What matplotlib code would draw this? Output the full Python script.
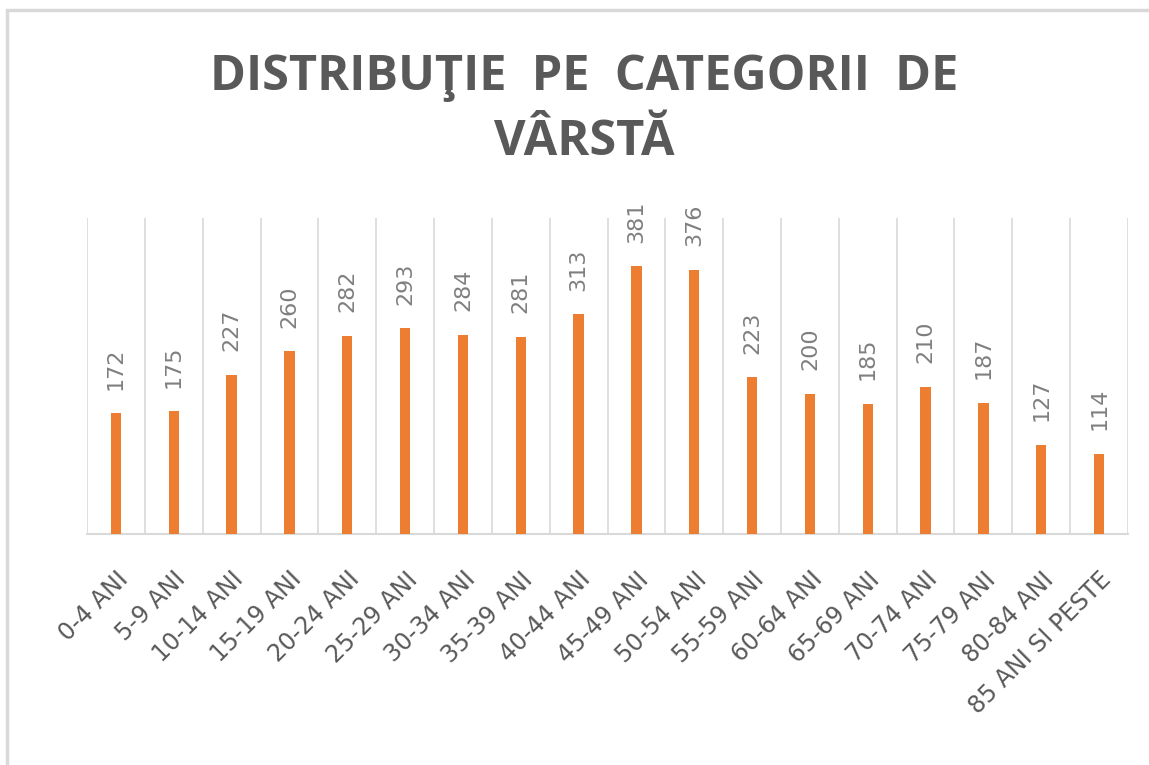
import numpy as np
import matplotlib.pyplot as plt
from matplotlib.patches import Rectangle

# date
categorii = ["0-4 ANI", "5-9 ANI", "10-14 ANI", "15-19 ANI", "20-24 ANI",
             "25-29 ANI", "30-34 ANI", "35-39 ANI", "40-44 ANI", "45-49 ANI",
             "50-54 ANI", "55-59 ANI", "60-64 ANI", "65-69 ANI", "70-74 ANI",
             "75-79 ANI", "80-84 ANI", "85 ANI SI PESTE"]
valori = [172, 175, 227, 260, 282, 293, 284, 281, 313, 381, 376,
          223, 200, 185, 210, 187, 127, 114]
titlu = "DISTRIBUŢIE  PE  CATEGORII  DE\nVÂRSTĂ"

W, H = 1149, 765
fig = plt.figure(figsize=(W / 100, H / 100), dpi=100)
fig.patch.set_facecolor("white")

# chenarul graficului (sus si stanga vizibile)
fig.patches.append(Rectangle((7 / W, -0.05), 1.1, 1 - 10 / H + 0.05,
                             transform=fig.transFigure, fill=False,
                             edgecolor="#D9D9D9", linewidth=2.5))

ax = fig.add_axes([87 / W, 1 - 534 / H, (1128 - 87) / W, (534 - 218) / H])
n = len(categorii)
x = np.arange(n)
ax.bar(x, valori, width=0.18, color="#ED7D31", zorder=3)
ax.set_xlim(-0.5, n - 0.5)
ax.set_ylim(0, 450)

# linii verticale intre categorii
for b in np.arange(-0.5, n, 1.0):
    ax.axvline(b, color="#D9D9D9", linewidth=1.2, zorder=1)
for s in ["top", "right", "left"]:
    ax.spines[s].set_visible(False)
ax.spines["bottom"].set_color("#D9D9D9")
ax.spines["bottom"].set_linewidth(1.5)
ax.set_yticks([])

ax.set_xticks(x)
ax.set_xticklabels(categorii, rotation=45, ha="right", va="top",
                   rotation_mode="anchor", fontsize=17, color="#595959",
                   family="DejaVu Sans")
ax.tick_params(axis="x", length=0, pad=24)

for xi, v in zip(x, valori):
    ax.annotate(str(v), (xi, v), xytext=(0, 17), textcoords="offset points",
                rotation=90, ha="center", va="bottom", fontsize=16,
                color="#7F7F7F", family="DejaVu Sans")

fig.text(584 / W, 1 - 110 / H, titlu, ha="center", va="center",
         fontsize=35, fontweight="bold", color="#595959",
         family="Open Sans", linespacing=1.45)

fig.savefig("out.png", dpi=100)
